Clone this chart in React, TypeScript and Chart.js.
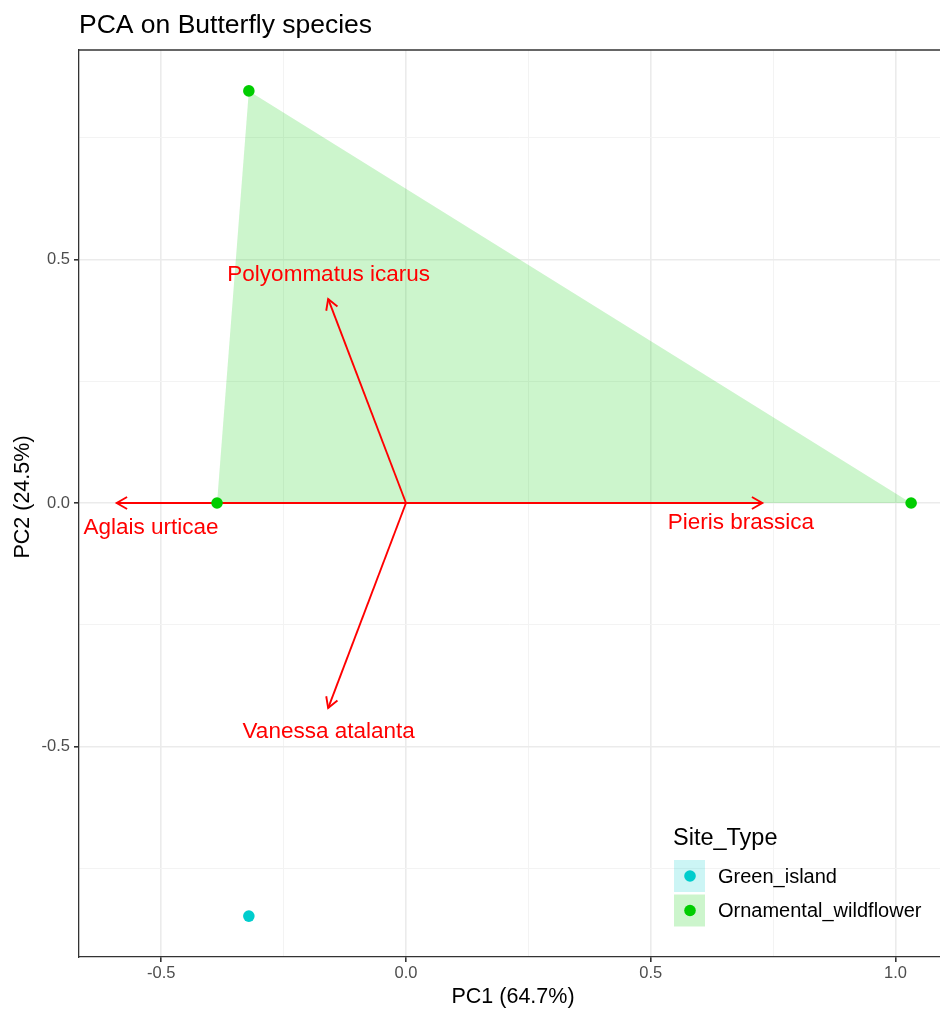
import { useEffect, useRef } from 'react';
import { Chart, registerables } from 'chart.js';

Chart.register(...registerables);

const FONT = '"Liberation Sans", Arial, sans-serif';

const chartTitle = 'PCA on Butterfly species';
const xAxisTitle = 'PC1 (64.7%)';
const yAxisTitle = 'PC2 (24.5%)';
const legendTitle = 'Site_Type';

const siteTypes = ['Green_island', 'Ornamental_wildflower'];
const siteColors = ['#00CDCD', '#00CD00'];
const siteFills = ['rgba(0,205,205,0.2)', 'rgba(0,205,0,0.2)'];

const greenIslandPC1 = [-0.321];
const greenIslandPC2 = [-0.848];
const ornamentalPC1 = [-0.386, -0.321, 1.032];
const ornamentalPC2 = [0.0, 0.846, 0.0];

const speciesNames = ['Pieris brassica', 'Aglais urticae', 'Polyommatus icarus', 'Vanessa atalanta'];
const loadingPC1 = [0.728, -0.591, -0.159, -0.159];
const loadingPC2 = [0.0, 0.0, 0.419, -0.421];
const labelPC1 = [0.684, -0.521, -0.158, -0.158];
const labelPC2 = [-0.041, -0.051, 0.468, -0.47];

const xTicks = [-0.5, -0.25, 0, 0.25, 0.5, 0.75, 1.0];
const yTicks = [-0.75, -0.5, -0.25, 0, 0.25, 0.5, 0.75];
const xMin = -0.668;
const xMax = 1.091;
const yMin = -0.932;
const yMax = 0.93;

const isMajor = (v: number) => Math.abs(v * 2 - Math.round(v * 2)) < 1e-9;

const decorPlugin = {
  id: 'decor',
  afterDatasetsDraw(chart: any) {
    const { ctx, scales } = chart;
    const x = scales.x;
    const y = scales.y;
    ctx.save();
    ctx.strokeStyle = '#FF0000';
    ctx.lineWidth = 1.9;
    const x0 = x.getPixelForValue(0);
    const y0 = y.getPixelForValue(0);
    speciesNames.forEach((_, i) => {
      const x1 = x.getPixelForValue(loadingPC1[i]);
      const y1 = y.getPixelForValue(loadingPC2[i]);
      const ang = Math.atan2(y1 - y0, x1 - x0);
      const L = 12;
      const a = Math.PI / 6;
      ctx.beginPath();
      ctx.moveTo(x1 - L * Math.cos(ang - a), y1 - L * Math.sin(ang - a));
      ctx.lineTo(x1, y1);
      ctx.lineTo(x1 - L * Math.cos(ang + a), y1 - L * Math.sin(ang + a));
      ctx.stroke();
    });
    ctx.fillStyle = '#FF0000';
    ctx.font = `22.5px ${FONT}`;
    ctx.textAlign = 'center';
    ctx.textBaseline = 'middle';
    speciesNames.forEach((name, i) => {
      ctx.fillText(name, x.getPixelForValue(labelPC1[i]), y.getPixelForValue(labelPC2[i]));
    });
    ctx.restore();
  },
  afterDraw(chart: any) {
    const { ctx, chartArea } = chart;
    ctx.save();
    // top panel border
    ctx.strokeStyle = '#333333';
    ctx.lineWidth = 1.3;
    ctx.beginPath();
    ctx.moveTo(chartArea.left, chartArea.top);
    ctx.lineTo(chartArea.right, chartArea.top);
    ctx.stroke();

    // title
    ctx.fillStyle = '#000000';
    ctx.font = `26.5px ${FONT}`;
    ctx.textAlign = 'left';
    ctx.textBaseline = 'alphabetic';
    ctx.fillText(chartTitle, chartArea.left, 33);

    // axis titles
    ctx.font = `21.5px ${FONT}`;
    ctx.textAlign = 'center';
    ctx.fillText(xAxisTitle, 513, 1003);
    ctx.save();
    ctx.translate(23, 497);
    ctx.rotate(-Math.PI / 2);
    ctx.textBaseline = 'middle';
    ctx.fillText(yAxisTitle, 0, 0);
    ctx.restore();

    // legend
    ctx.textAlign = 'left';
    ctx.textBaseline = 'alphabetic';
    ctx.font = `23.5px ${FONT}`;
    ctx.fillStyle = '#000000';
    ctx.fillText(legendTitle, 673, 845);
    siteTypes.forEach((name, i) => {
      const top = 860 + i * 34.5;
      ctx.fillStyle = siteFills[i];
      ctx.fillRect(674, top, 31, 32);
      ctx.fillStyle = siteColors[i];
      ctx.beginPath();
      ctx.arc(690, top + 16, 5.8, 0, Math.PI * 2);
      ctx.fill();
      ctx.fillStyle = '#000000';
      ctx.font = `20px ${FONT}`;
      ctx.textBaseline = 'middle';
      ctx.fillText(name, 718, top + 17);
    });
    ctx.restore();
  },
};

export default function App() {
  const canvasRef = useRef<HTMLCanvasElement | null>(null);

  useEffect(() => {
    document.body.style.margin = '0';
    document.body.style.overflow = 'hidden';
    const canvas = canvasRef.current;
    if (!canvas) return;

    const gridCfg = {
      color: (c: any) => (c.tick && isMajor(c.tick.value) ? '#EBEBEB' : '#F3F3F3'),
      lineWidth: (c: any) => (c.tick && isMajor(c.tick.value) ? 1.6 : 1),
      tickColor: (c: any) => (c.tick && isMajor(c.tick.value) ? '#333333' : 'rgba(0,0,0,0)'),
      tickLength: 5,
      drawTicks: true,
    };
    const tickCfg = {
      color: '#4D4D4D',
      font: { family: FONT, size: 16.5 },
      autoSkip: false,
      maxRotation: 0,
      callback: (v: any) => (isMajor(Number(v)) ? Number(v).toFixed(1) : ''),
    };

    const chart = new Chart(canvas, {
      type: 'scatter',
      data: {
        datasets: [
          {
            label: siteTypes[0],
            data: greenIslandPC1.map((v, i) => ({ x: v, y: greenIslandPC2[i] })),
            backgroundColor: siteColors[0],
            borderColor: siteColors[0],
            pointRadius: 5.8,
            borderWidth: 0,
            order: 0,
          },
          {
            label: siteTypes[1],
            data: ornamentalPC1.map((v, i) => ({ x: v, y: ornamentalPC2[i] })),
            backgroundColor: siteColors[1],
            borderColor: siteColors[1],
            pointRadius: 5.8,
            borderWidth: 0,
            order: 0,
          },
          ...speciesNames.map((name, i) => {
            return {
              label: name,
              data: [
                { x: 0, y: 0 },
                { x: loadingPC1[i], y: loadingPC2[i] },
              ],
              showLine: true,
              borderColor: '#FF0000',
              borderWidth: 1.9,
              pointRadius: 0,
              fill: false,
              order: 1,
            } as any;
          }),
          {
            label: 'hull',
            data: ornamentalPC1
              .map((v, i) => ({ x: v, y: ornamentalPC2[i] }))
              .sort((a, b) => a.x - b.x),
            showLine: true,
            borderWidth: 0,
            borderColor: 'rgba(0,0,0,0)',
            backgroundColor: siteFills[1],
            pointRadius: 0,
            fill: 'origin',
            order: 2,
          } as any,
        ],
      },
      options: {
        responsive: false,
        animation: false,
        devicePixelRatio: 1,
        layout: { autoPadding: false, padding: { top: 50, right: 0, bottom: 0, left: 0 } },
        plugins: {
          legend: { display: false },
          tooltip: { enabled: false },
          title: { display: false },
        },
        scales: {
          x: {
            type: 'linear',
            min: xMin,
            max: xMax,
            afterBuildTicks: (s: any) => {
              s.ticks = xTicks.map((v) => ({ value: v }));
            },
            afterFit: (s: any) => {
              s.height = 52;
              s.paddingLeft = 0;
              s.paddingRight = 0;
            },
            grid: gridCfg as any,
            border: { display: true, color: '#333333', width: 1.3 },
            ticks: { ...tickCfg, padding: 2 } as any,
          },
          y: {
            type: 'linear',
            min: yMin,
            max: yMax,
            afterBuildTicks: (s: any) => {
              s.ticks = yTicks.map((v) => ({ value: v }));
            },
            afterFit: (s: any) => {
              s.width = 79;
              s.paddingTop = 0;
              s.paddingBottom = 0;
            },
            grid: gridCfg as any,
            border: { display: true, color: '#333333', width: 1.3 },
            ticks: { ...tickCfg, padding: 4 } as any,
          },
        },
      } as any,
      plugins: [decorPlugin],
    });

    return () => chart.destroy();
  }, []);

  return <canvas ref={canvasRef} width={940} height={1009} style={{ display: 'block' }} />;
}
